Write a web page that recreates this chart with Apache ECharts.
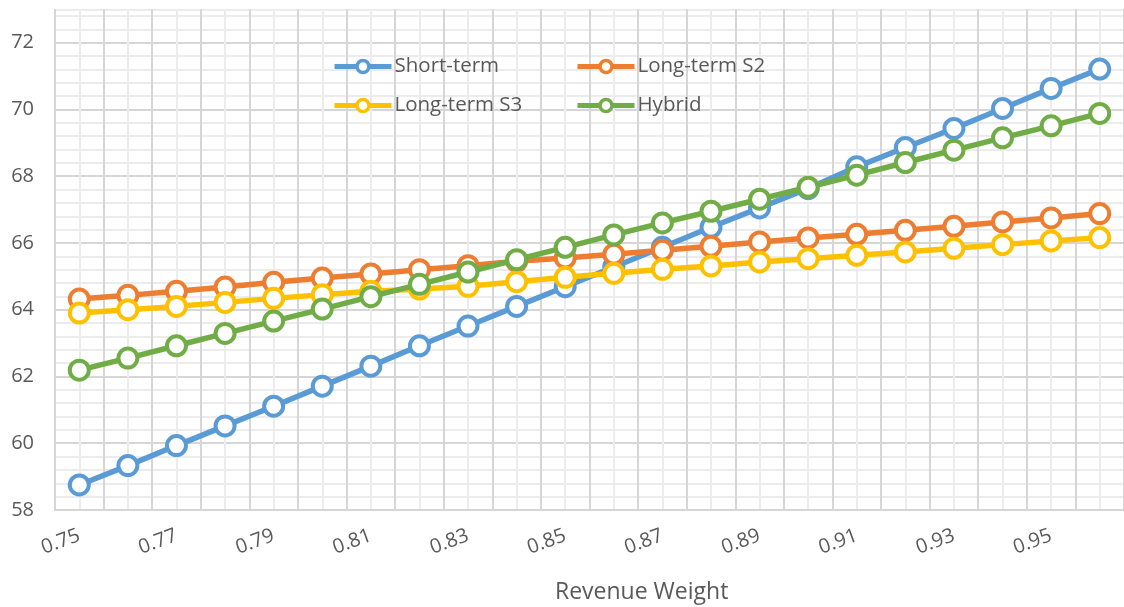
<!DOCTYPE html>
<html>
<head>
<meta charset="utf-8">
<style>
  html, body { margin: 0; padding: 0; background: #ffffff; }
  #chart { width: 1124px; height: 607px; }
</style>
<script src="https://cdn.jsdelivr.net/npm/echarts@6/dist/echarts.min.js"></script>
</head>
<body>
<div id="chart"></div>
<script>
// Revenue weight on the horizontal axis
const weights = ['0.75','0.76','0.77','0.78','0.79','0.80','0.81','0.82','0.83','0.84','0.85',
                 '0.86','0.87','0.88','0.89','0.90','0.91','0.92','0.93','0.94','0.95','0.96'];

const shortTerm = [58.75, 59.33, 59.93, 60.52, 61.11, 61.71, 62.31, 62.92, 63.51, 64.10, 64.69,
                   65.28, 65.87, 66.47, 67.05, 67.63, 68.28, 68.86, 69.43, 70.03, 70.63, 71.21];
const longTermS2 = [64.32, 64.43, 64.55, 64.68, 64.82, 64.95, 65.07, 65.20, 65.32, 65.45, 65.55,
                    65.66, 65.78, 65.90, 66.03, 66.15, 66.26, 66.38, 66.50, 66.63, 66.75, 66.88];
const longTermS3 = [63.90, 64.00, 64.10, 64.22, 64.34, 64.45, 64.55, 64.62, 64.70, 64.84, 64.97,
                    65.09, 65.21, 65.31, 65.43, 65.53, 65.63, 65.73, 65.84, 65.95, 66.06, 66.16];
const hybrid = [62.19, 62.55, 62.92, 63.29, 63.66, 64.02, 64.39, 64.76, 65.13, 65.50, 65.87,
                66.24, 66.60, 66.95, 67.31, 67.67, 68.03, 68.41, 68.78, 69.15, 69.51, 69.88];

const seriesNames = ['Short-term', 'Long-term S2', 'Long-term S3', 'Hybrid'];
const seriesData = [shortTerm, longTermS2, longTermS3, hybrid];
const colors = ['#5b9bd5', '#ed7d31', '#ffc000', '#70ad47'];

const textColor = '#595959';
const majorGrid = '#d6d6d6';
const minorGrid = '#ececec';
const fontFamily = '"Open Sans", "Noto Sans", sans-serif';

// Grid line colours: every 5th minor step is a major line; the top edge stays open
const yMin = 58, yMax = 73, yMinorStep = 0.4;
const yLineCount = Math.round((yMax - yMin) / yMinorStep) + 2;
const yLineColors = [];
for (let k = 0; k < yLineCount; k++) {
  yLineColors.push(k === yLineCount - 1 ? 'rgba(0,0,0,0)' : (k % 5 === 0 ? majorGrid : minorGrid));
}
// Vertical lines: category boundaries (major) alternate with category centres (minor)
const xHalfSteps = weights.length * 2;
const xLineColors = [];
for (let k = 0; k <= xHalfSteps; k++) {
  xLineColors.push(k % 2 === 0 ? majorGrid : minorGrid);
}

const chart = echarts.init(document.getElementById('chart'), null, { renderer: 'canvas' });

const plotLeft = 55, plotTop = 9.3, cellW = 48.85, plotBottom = 510;

const legendBase = {
  orient: 'vertical',
  top: 56,
  padding: 0,
  itemWidth: 57, itemHeight: 15, itemGap: 18,
  textStyle: { fontFamily: fontFamily, fontSize: 20.5, color: textColor, lineHeight: 21, padding: [0, 0, 0, -2] },
  lineStyle: { width: 5 },
  itemStyle: { borderWidth: 3.5 }
};

chart.setOption({
  backgroundColor: '#ffffff',
  animation: false,
  textStyle: { fontFamily: fontFamily },
  title: {
    text: 'Revenue Weight',
    left: 555,
    top: 581,
    padding: 0,
    textStyle: { fontFamily: fontFamily, fontSize: 23, fontWeight: 'normal', color: textColor }
  },
  legend: [
    Object.assign({}, legendBase, { data: [seriesNames[0], seriesNames[2]], left: 332 }),
    Object.assign({}, legendBase, { data: [seriesNames[1], seriesNames[3]], left: 575 })
  ],
  grid: {
    left: plotLeft,
    top: plotTop,
    width: cellW * weights.length,
    height: plotBottom - plotTop
  },
  xAxis: [
    {
      type: 'category',
      data: weights,
      boundaryGap: true,
      axisLine: { show: true, lineStyle: { color: majorGrid, width: 2 } },
      axisTick: { show: false },
      axisLabel: {
        interval: 1,
        rotate: 20,
        margin: 25,
        fontFamily: fontFamily,
        fontSize: 20,
        color: textColor
      },
      splitLine: { show: false }
    },
    {
      // grid-only axis for the vertical lines
      type: 'value',
      position: 'top',
      min: 0,
      max: xHalfSteps,
      interval: 1,
      axisLine: { show: false },
      axisTick: { show: false },
      axisLabel: { show: false },
      splitLine: { show: true, lineStyle: { color: xLineColors, width: 2 } }
    }
  ],
  yAxis: [
    {
      type: 'value',
      min: yMin,
      max: yMax,
      interval: 2,
      axisLine: { show: false },
      axisTick: { show: false },
      axisLabel: {
        showMaxLabel: false,
        margin: 21,
        fontFamily: fontFamily,
        fontSize: 20,
        color: textColor
      },
      splitLine: { show: false }
    },
    {
      // grid-only axis for the horizontal lines
      type: 'value',
      min: yMin,
      max: yMax,
      interval: yMinorStep,
      axisLine: { show: false },
      axisTick: { show: false },
      axisLabel: { show: false },
      splitLine: { show: true, lineStyle: { color: yLineColors, width: 2 } }
    }
  ],
  series: seriesNames.map((name, i) => ({
    name: name,
    type: 'line',
    xAxisIndex: 0,
    yAxisIndex: 0,
    z: 3 + i,
    data: seriesData[i],
    color: colors[i],
    symbol: 'circle',
    symbolSize: 19,
    showAllSymbol: true,
    lineStyle: { color: colors[i], width: 5.5 },
    itemStyle: { color: '#ffffff', borderColor: colors[i], borderWidth: 4 },
    emphasis: { disabled: true }
  }))
});
</script>
</body>
</html>
